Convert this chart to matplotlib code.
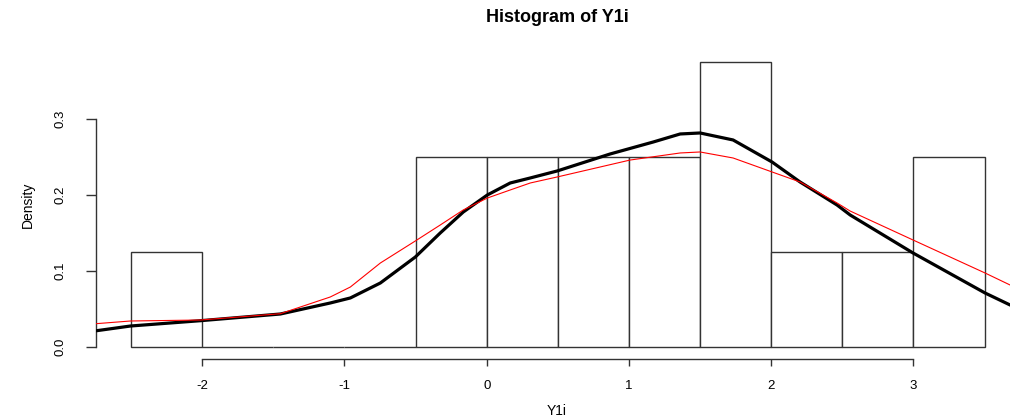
import matplotlib
matplotlib.use("Agg")
import matplotlib.pyplot as plt
import numpy as np

plt.rcParams['font.family'] = ['Liberation Sans', 'DejaVu Sans']

# Histogram data
breaks = [-2.5, -2.0, -1.5, -1.0, -0.5, 0.0, 0.5, 1.0, 1.5, 2.0, 2.5, 3.0, 3.5]
density = [0.125, 0.0, 0.0, 0.0, 0.25, 0.25, 0.25, 0.25, 0.375, 0.125, 0.125, 0.25]

# Black density curve
black_x = [-2.744, -2.505, -2.013, -1.451, -1.100, -0.959, -0.748, -0.502, -0.327, -0.165,
           0.004, 0.165, 0.306, 0.495, 0.868, 1.170, 1.360, 1.500, 1.732, 2.006,
           2.203, 2.463, 2.555, 2.997, 3.503, 3.679, 3.735]
black_y = [0.0214, 0.0276, 0.0346, 0.0434, 0.0579, 0.0645, 0.0842, 0.1184, 0.150, 0.1776,
           0.200, 0.2158, 0.2224, 0.2316, 0.254, 0.2697, 0.2803, 0.2816, 0.2724, 0.2434,
           0.2171, 0.1868, 0.1737, 0.1237, 0.0711, 0.0553, 0.0520]

# Red curve
red_x = [-2.744, -2.505, -2.013, -1.451, -1.100, -0.959, -0.748, -0.502, -0.327, -0.165,
         0.004, 0.165, 0.306, 0.495, 1.008, 1.360, 1.500, 1.732, 2.006, 2.203,
         2.463, 2.555, 2.997, 3.503, 3.679, 3.735]
red_y = [0.0307, 0.0342, 0.0355, 0.0438, 0.0658, 0.0789, 0.1105, 0.1395, 0.1605, 0.1803,
         0.196, 0.2066, 0.2158, 0.2237, 0.246, 0.2553, 0.2566, 0.2487, 0.2303, 0.2171,
         0.1895, 0.1789, 0.1408, 0.0974, 0.0816, 0.0780]

x_ticks = [-2, -1, 0, 1, 2, 3]
y_ticks = [0.0, 0.1, 0.2, 0.3]
y_tick_labels = ["0.0", "0.1", "0.2", "0.3"]

W, H = 1010, 416
fig = plt.figure(figsize=(W / 100, H / 100), dpi=100)
left = 96 / W
right = 1018 / W
bottom = 1 - 359 / H
top = 1 - 50.6 / H
ax = fig.add_axes([left, bottom, right - left, top - bottom])

widths = np.diff(breaks)
ax.bar(breaks[:-1], density, width=widths, align='edge', facecolor='white',
       edgecolor='#333333', linewidth=1.0, zorder=1)
ax.plot(black_x, black_y, color='black', linewidth=2.3, zorder=3,
        solid_joinstyle='round', solid_capstyle='round')
ax.plot(red_x, red_y, color='red', linewidth=0.8, zorder=4)

ax.set_xlim(-2.747, 3.735)
ax.set_ylim(-0.0158, 0.39)

for s in ['top', 'right']:
    ax.spines[s].set_visible(False)
ax.spines['bottom'].set_bounds(-2, 3)
ax.spines['left'].set_bounds(0, 0.3)
for s in ['bottom', 'left']:
    ax.spines[s].set_color('#333333')
    ax.spines[s].set_linewidth(1.0)

ax.set_xticks(x_ticks)
ax.set_xticklabels([str(t) for t in x_ticks])
ax.set_yticks(y_ticks)
ax.set_yticklabels(y_tick_labels, rotation=90, va='center')
ax.tick_params(axis='x', length=5.0, width=1.0, color='#333333', labelsize=9.5, pad=10)
ax.tick_params(axis='y', length=7.5, width=1.0, color='#333333', labelsize=9.5, pad=14)

ax.set_ylabel("Density", fontsize=10, labelpad=14)
fig.text(557 / W, 1 - 411 / H, "Y1i", ha='center', va='center', fontsize=10)
fig.text(557 / W, 1 - 18 / H, "Histogram of Y1i", ha='center', va='center',
         fontsize=13, fontweight='bold')

fig.savefig("out.png", dpi=100)
